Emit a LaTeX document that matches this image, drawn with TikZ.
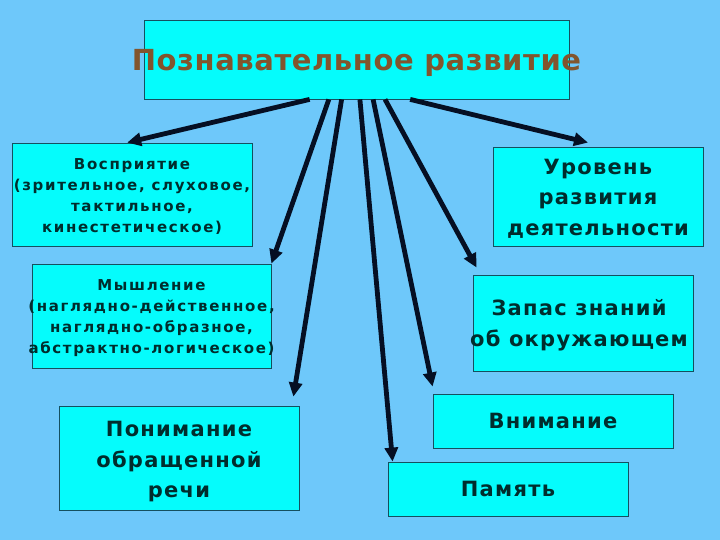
\documentclass[tikz,border=0pt]{standalone}
\usepackage{fontspec}
\setmainfont{DejaVu Sans}
\newfontfamily\spacedfont[LetterSpace=11]{DejaVu Sans}
\newfontfamily\widefont[LetterSpace=6]{DejaVu Sans}
\newfontfamily\headfont[LetterSpace=2]{DejaVu Sans}
\usetikzlibrary{calc,arrows.meta}
\definecolor{slideblue}{RGB}{110,200,250}
\definecolor{boxcyan}{RGB}{5,252,252}
\definecolor{boxframe}{RGB}{20,80,95}
\definecolor{boxtext}{RGB}{0,45,45}
\definecolor{titlebrown}{RGB}{130,85,45}
\definecolor{arrowdark}{RGB}{5,15,35}
\tikzset{
    % boxes of the scheme
    topicbox/.style={draw=boxframe, fill=boxcyan, line width=0.8pt, inner sep=0pt},
    % texts in the boxes
    titletext/.style={font=\headfont\bfseries\fontsize{29}{34}\selectfont, text=titlebrown},
    smalltext/.style={font=\spacedfont\bfseries\fontsize{15}{21}\selectfont,
                      text=boxtext, align=center},
    bigtext/.style={font=\widefont\bfseries\fontsize{21}{30.5}\selectfont,
                    text=boxtext, align=center},
    % arrows from the title
    flowarrow/.style={-{Triangle[length=14pt,width=13pt]}, line width=4.8pt, arrowdark},
}

\begin{document}
\begin{tikzpicture}[x=1pt,y=-1pt]
  % background of the slide
  \fill[slideblue] (0,0) rectangle (720,540);
  \useasboundingbox (0,0) rectangle (720,540);

  % title
  \node[topicbox, minimum width=425, minimum height=79] (title) at (356.5,59.5) {};
  \node[titletext] (titlelbl) at ($(title)+(0,3)$) {Познавательное развитие};

  % left column
  \node[topicbox, minimum width=240, minimum height=103] (vospr) at (132,194.5) {};
  \node[smalltext] (vosprlbl) at ($(vospr)+(0,2)$)
     {Восприятие\\(зрительное, слуховое,\\тактильное,\\кинестетическое)};
  \node[topicbox, minimum width=239, minimum height=104] (myshl) at (151.5,316) {};
  \node[smalltext] (myshllbl) at ($(myshl)+(0,2)$)
     {Мышление\\(наглядно-действенное,\\наглядно-образное,\\абстрактно-логическое)};
  \node[topicbox, minimum width=240, minimum height=104] (ponim) at (179,458) {};
  \node[bigtext] (ponimlbl) at ($(ponim)+(0,4)$) {Понимание\\обращенной\\речи};

  % right column
  \node[topicbox, minimum width=210, minimum height=99] (urov) at (598,196.5) {};
  \node[bigtext] (urovlbl) at ($(urov)+(0,2)$) {Уровень\\развития\\деятельности};
  \node[topicbox, minimum width=220, minimum height=96] (zapas) at (583,323) {};
  \node[bigtext] (zapaslbl) at ($(zapas)+(-4,2)$) {Запас знаний\\об окружающем};
  \node[topicbox, minimum width=240, minimum height=54] (vnim) at (553,421) {};
  \node[bigtext] (vnimlbl) at (vnim) {Внимание};
  \node[topicbox, minimum width=240, minimum height=54] (pamyat) at (508,489) {};
  \node[bigtext] (pamyatlbl) at (pamyat) {Память};

  % start points on the lower edge of the title
  \foreach \f [count=\i] in {0.39,0.435,0.465,0.508,0.539,0.567,0.626}
     \coordinate (s\i) at ($(title.south west)!\f!(title.south east)$);

  % arrows
  \draw[flowarrow] (s1) -- ($(vospr.north west)!0.48!(vospr.north east)$);
  \draw[flowarrow] (s2) -- (myshl.north east);
  \draw[flowarrow] (s3) -- ($(ponim.north east)+(-6,-9)$);
  \draw[flowarrow] (s4) -- ($(pamyat.north west)+(5,0)$);
  \draw[flowarrow] (s5) -- ($(vnim.north west)+(0,-7)$);
  \draw[flowarrow] (s6) -- ($(zapas.north west)+(4,-7)$);
  \draw[flowarrow] (s7) -- ($(urov.north)+(-10,-4)$);
\end{tikzpicture}
\end{document}
